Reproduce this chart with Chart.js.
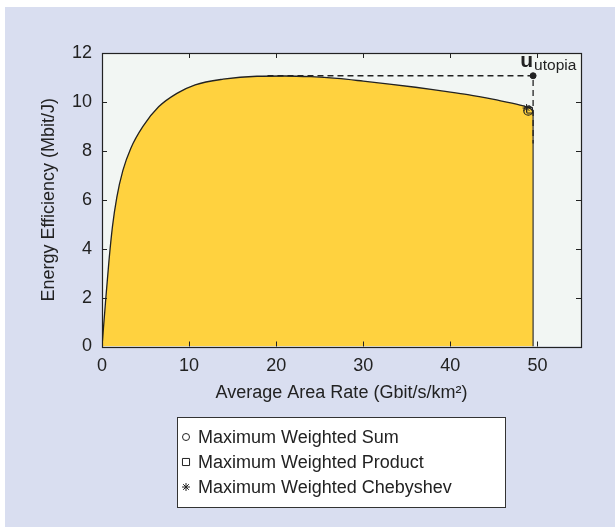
<!DOCTYPE html>
<html>
<head>
<meta charset="utf-8">
<script src="https://cdn.jsdelivr.net/npm/chart.js@4.4.1/dist/chart.umd.min.js"></script>
<style>
  html, body { margin: 0; padding: 0; background: #fff; }
  #wrap { width: 615px; height: 527px; position: relative; }
</style>
</head>
<body>
<div id="wrap"><canvas id="chart" width="615" height="527"></canvas></div>
<script>
// Pareto boundary of (area rate, energy efficiency)
const curveX = [0, 0.4, 0.8, 1.2, 1.7, 2.4, 3.3, 4.7, 6.5, 8.6, 10.7, 13.9, 17.8, 21, 24, 27, 30, 33, 36, 39, 42, 45, 48, 49.3, 49.5];
const curveY = [0, 1.8, 3.5, 4.9, 6.1, 7.2, 8.1, 9.0, 9.8, 10.35, 10.7, 10.93, 11.05, 11.06, 11.03, 10.96, 10.85, 10.73, 10.6, 10.45, 10.3, 10.1, 9.87, 9.7, 9.6];
const edgeX = [49.5, 49.5];
const edgeY = [9.6, 0];

// utopia point and its guide lines
const utopiaX = [49.5];
const utopiaY = [11.07];
const guideX = [19, 49.5, 49.5];
const guideY = [11.07, 11.07, 8.3];

// operating points
const sumX = [48.95];
const sumY = [9.64];
const productX = [49.1];
const productY = [9.66];
const chebyshevX = [48.75];
const chebyshevY = [9.75];

const xTicks = [0, 10, 20, 30, 40, 50];
const yTicks = [0, 2, 4, 6, 8, 10, 12];

const FONT = '"Liberation Sans", Arial, sans-serif';
const INK = '#222222';

function pts(xs, ys) {
  return xs.map((x, i) => ({x: x, y: ys[i]}));
}

/** Backgrounds, boxed axes with inward ticks, utopia label and legend box */
const decorations = {
  id: 'decorations',
  beforeDraw(chart) {
    const {ctx, chartArea: a} = chart;
    ctx.save();
    ctx.fillStyle = '#ffffff';
    ctx.fillRect(0, 0, chart.width, chart.height);
    ctx.fillStyle = '#d9def0';
    ctx.fillRect(5, 7, chart.width - 5, chart.height - 7);
    ctx.fillStyle = '#f2f6f3';
    ctx.fillRect(a.left, a.top, a.right - a.left, a.bottom - a.top);
    ctx.restore();
  },
  afterDatasetsDraw(chart) {
    const {ctx, chartArea: a, scales} = chart;
    ctx.save();
    ctx.strokeStyle = INK;
    ctx.lineWidth = 1;
    ctx.beginPath();
    scales.x.ticks.forEach((t) => {
      const px = Math.round(scales.x.getPixelForValue(t.value)) + 0.5;
      ctx.moveTo(px, a.bottom); ctx.lineTo(px, a.bottom - 5);
      ctx.moveTo(px, a.top); ctx.lineTo(px, a.top + 5);
    });
    scales.y.ticks.forEach((t) => {
      const py = Math.round(scales.y.getPixelForValue(t.value)) + 0.5;
      ctx.moveTo(a.left, py); ctx.lineTo(a.left + 5, py);
      ctx.moveTo(a.right, py); ctx.lineTo(a.right - 5, py);
    });
    ctx.stroke();
    ctx.lineWidth = 1.2;
    ctx.strokeRect(Math.round(a.left) + 0.5, Math.round(a.top) + 0.5,
      Math.round(a.right - a.left), Math.round(a.bottom - a.top));

    // u_utopia label
    const ux = scales.x.getPixelForValue(utopiaX[0]);
    const uy = scales.y.getPixelForValue(utopiaY[0]);
    ctx.fillStyle = INK;
    ctx.textAlign = 'right';
    ctx.textBaseline = 'alphabetic';
    ctx.font = 'bold 21px ' + FONT;
    ctx.fillText('u', ux, uy - 9);
    ctx.textAlign = 'left';
    ctx.font = '15.5px ' + FONT;
    ctx.fillText('utopia', ux + 1, uy - 6);

    // legend box
    const items = chart.data.datasets.filter((d) => d.inLegend);
    const box = {left: 177, top: 417, width: 328, height: 90};
    ctx.fillStyle = '#ffffff';
    ctx.fillRect(box.left, box.top, box.width, box.height);
    ctx.strokeStyle = '#333333';
    ctx.lineWidth = 1;
    ctx.strokeRect(box.left + 0.5, box.top + 0.5, box.width, box.height);
    items.forEach((d, i) => {
      const cy = box.top + 20 + i * 25;
      ctx.strokeStyle = INK;
      ctx.fillStyle = 'rgba(0,0,0,0)';
      ctx.lineWidth = 1;
      Chart.helpers.drawPoint(ctx, {
        pointStyle: d.pointStyle, radius: d.legendRadius, borderWidth: 1,
      }, box.left + 9, cy);
      ctx.fillStyle = INK;
      ctx.font = '18px ' + FONT;
      ctx.textAlign = 'left';
      ctx.textBaseline = 'middle';
      ctx.fillText(d.label, box.left + 21, cy + 1);
    });
    ctx.restore();
  },
};

new Chart(document.getElementById('chart'), {
  type: 'line',
  data: {
    datasets: [
      {
        label: 'Maximum Weighted Sum',
        data: pts(sumX, sumY),
        showLine: false,
        pointStyle: 'circle',
        pointRadius: 4.5,
        legendRadius: 3.5,
        borderColor: INK,
        backgroundColor: 'rgba(0,0,0,0)',
        borderWidth: 1.2,
        inLegend: true,
        order: 3,
      },
      {
        label: 'Maximum Weighted Product',
        data: pts(productX, productY),
        showLine: false,
        pointStyle: 'rect',
        pointRadius: 4,
        legendRadius: 5,
        borderColor: INK,
        backgroundColor: 'rgba(0,0,0,0)',
        borderWidth: 1,
        inLegend: true,
        order: 2,
      },
      {
        label: 'Maximum Weighted Chebyshev',
        data: pts(chebyshevX, chebyshevY),
        showLine: false,
        pointStyle: 'star',
        pointRadius: 4,
        legendRadius: 4,
        borderColor: INK,
        borderWidth: 1,
        inLegend: true,
        order: 1,
      },
      {
        label: 'utopia',
        data: pts(utopiaX, utopiaY),
        showLine: false,
        pointStyle: 'circle',
        pointRadius: 3,
        borderColor: INK,
        backgroundColor: INK,
        order: 4,
      },
      {
        label: 'guide',
        data: pts(guideX, guideY),
        borderColor: INK,
        borderWidth: 1.3,
        borderDash: [6, 4],
        pointRadius: 0,
        tension: 0,
        order: 5,
      },
      {
        label: 'edge',
        data: pts(edgeX, edgeY),
        borderColor: '#333333',
        borderWidth: 1.2,
        pointRadius: 0,
        tension: 0,
        order: 6,
      },
      {
        label: 'boundary',
        data: pts(curveX, curveY),
        borderColor: INK,
        borderWidth: 1.3,
        backgroundColor: '#ffd23f',
        fill: 'origin',
        pointRadius: 0,
        cubicInterpolationMode: 'monotone',
        order: 10,
      },
    ],
  },
  options: {
    responsive: false,
    animation: false,
    events: [],
    layout: {
      padding: {left: 38, top: 53, right: 34, bottom: 123.5},
    },
    scales: {
      x: {
        type: 'linear',
        min: 0,
        max: 55,
        afterBuildTicks: (scale) => {
          scale.ticks = xTicks.map((v) => ({value: v}));
        },
        afterFit: (scale) => { scale.height = 57; },
        grid: {display: false, drawTicks: false},
        border: {display: false},
        ticks: {
          padding: 9,
          color: INK,
          font: {family: FONT, size: 18},
          maxRotation: 0,
        },
        title: {
          display: true,
          text: 'Average Area Rate (Gbit/s/km²)',
          color: INK,
          font: {family: FONT, size: 18},
          padding: 0,
        },
      },
      y: {
        type: 'linear',
        min: 0,
        max: 12,
        afterBuildTicks: (scale) => {
          scale.ticks = yTicks.map((v) => ({value: v}));
        },
        afterFit: (scale) => { scale.width = 64; },
        grid: {display: false, drawTicks: false},
        border: {display: false},
        ticks: {
          padding: 10,
          color: INK,
          font: {family: FONT, size: 18},
        },
        title: {
          display: true,
          text: 'Energy Efficiency (Mbit/J)',
          color: INK,
          font: {family: FONT, size: 18},
          padding: 0,
        },
      },
    },
    plugins: {
      legend: {display: false},
      tooltip: {enabled: false},
    },
  },
  plugins: [decorations],
});
</script>
</body>
</html>
